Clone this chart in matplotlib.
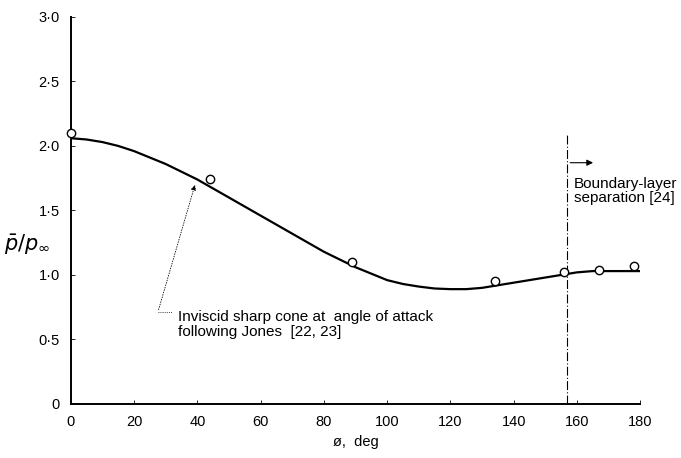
import matplotlib
matplotlib.use("Agg")
import matplotlib.pyplot as plt

# measured points (circles)
phi_pts = [0, 44, 89, 134, 156, 167, 178]
p_pts = [2.10, 1.74, 1.10, 0.95, 1.02, 1.04, 1.07]

# inviscid theory curve
phi_curve = [0, 5, 10, 15, 20, 25, 30, 35, 40, 45, 50, 55, 60, 65, 70, 75, 80, 85, 90,
             95, 100, 105, 110, 115, 120, 125, 130, 135, 140, 145, 150, 155, 160, 165,
             170, 175, 180]
p_curve = [2.06, 2.05, 2.03, 2.00, 1.96, 1.91, 1.86, 1.80, 1.74, 1.67, 1.60, 1.53, 1.46,
           1.39, 1.32, 1.25, 1.18, 1.12, 1.06, 1.01, 0.96, 0.93, 0.91, 0.895, 0.89,
           0.89, 0.90, 0.92, 0.94, 0.96, 0.98, 1.00, 1.02, 1.03, 1.03, 1.03, 1.03]

xticks = [0, 20, 40, 60, 80, 100, 120, 140, 160, 180]
yticks = [0, 0.5, 1.0, 1.5, 2.0, 2.5, 3.0]
ytick_labels = ["0", "0\u00b75", "1\u00b70", "1\u00b75", "2\u00b70", "2\u00b75", "3\u00b70"]

sep_phi = 157

plt.rcParams['font.family'] = ['Liberation Sans', 'DejaVu Sans']

fig = plt.figure(figsize=(6.81, 4.58), dpi=100)
ax = fig.add_axes([0.104, 0.118, 0.836, 0.845])

ax.plot(phi_curve, p_curve, color="black", lw=1.6, zorder=2)
ax.plot(phi_pts, p_pts, "o", ms=6, mfc="white", mec="black", mew=1.0, zorder=3,
        clip_on=False)

ax.plot([sep_phi, sep_phi], [0, 2.09], color="black", lw=0.8, ls=(0, (8, 2, 1, 2)))
ax.annotate("", xy=(sep_phi + 9, 1.87), xytext=(sep_phi, 1.87),
            arrowprops=dict(arrowstyle="-|>", color="black", lw=0.8, mutation_scale=9))
ax.text(sep_phi + 2, 1.65, "Boundary-layer\nseparation [24]", fontsize=11,
        ha="left", va="center", linespacing=1.05)

# leader for theory curve
ax.plot([27.5, 32], [0.71, 0.71], color="black", lw=0.6, ls=(0, (1, 1.5)))
ax.annotate("", xy=(39.5, 1.72), xytext=(27.5, 0.71),
            arrowprops=dict(arrowstyle="-|>", color="black", lw=0.6, ls=(0, (1, 2)),
                            mutation_scale=8))
ax.text(34, 0.615, "Inviscid sharp cone at  angle of attack\nfollowing Jones  [22, 23]",
        fontsize=11, ha="left", va="center", linespacing=1.05)

ax.set_xlim(0, 180)
ax.set_ylim(0, 3.0)
ax.set_xticks(xticks)
ax.set_yticks(yticks)
ax.set_yticklabels(ytick_labels)
ax.tick_params(direction="in", length=3, width=0.6, labelsize=10.5, pad=8)
for s in ["top", "right"]:
    ax.spines[s].set_visible(False)
ax.spines["left"].set_linewidth(1.4)
ax.spines["bottom"].set_linewidth(1.4)

ax.set_xlabel("\u00f8,  deg", fontsize=10.5, labelpad=4)
ax.set_ylabel(r"$\bar{p}/p_{\infty}$", fontsize=15, rotation=0, ha="center", va="center")
ax.yaxis.set_label_coords(-0.077, 0.41)

fig.savefig("out.png", dpi=100)
